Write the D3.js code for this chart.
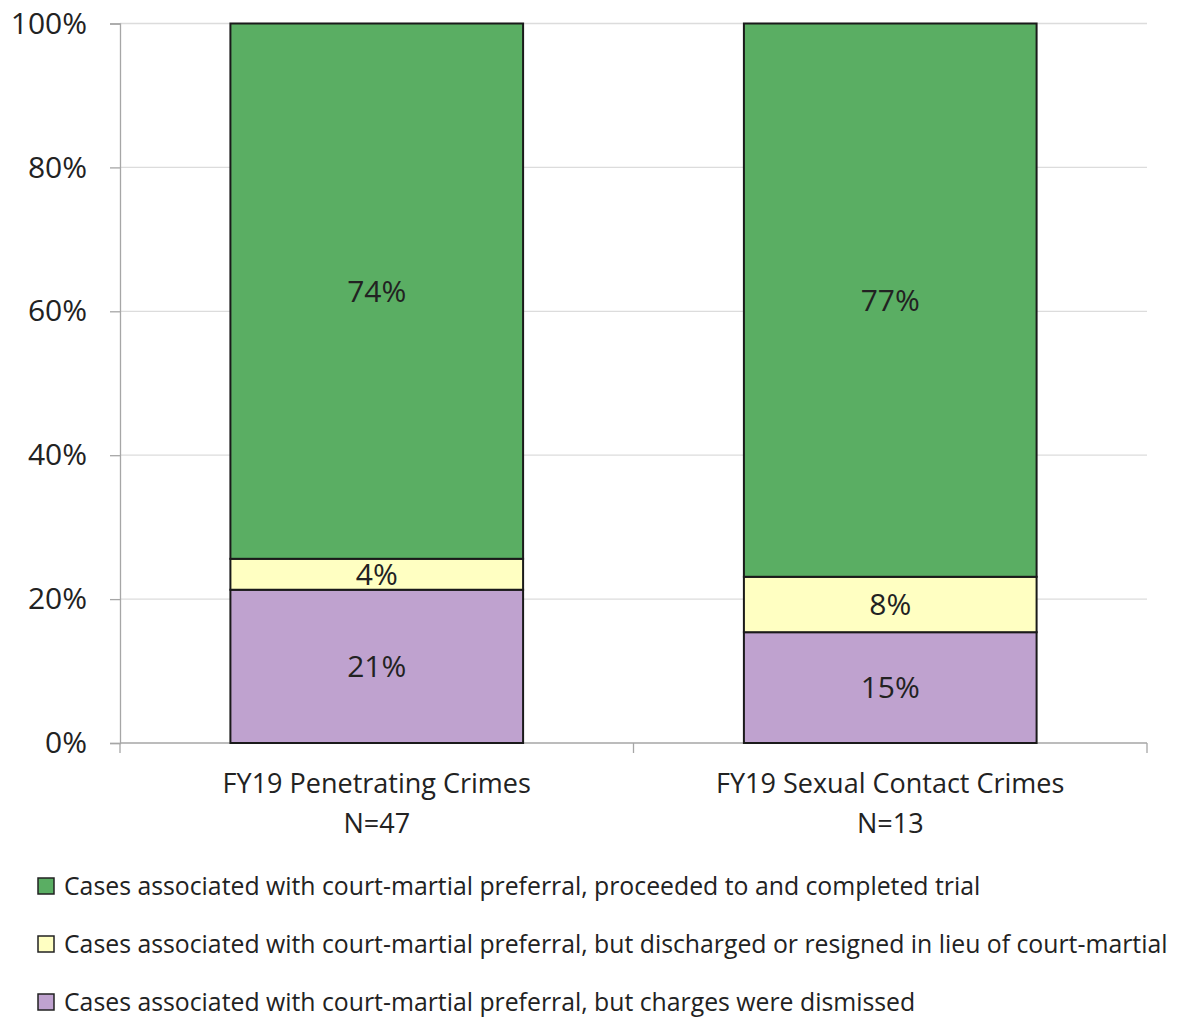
<!DOCTYPE html>
<html>
<head>
<meta charset="utf-8">
<script src="https://cdn.jsdelivr.net/npm/d3@7"></script>
<style>
  body { margin: 0; background: #fff; }
  text { font-family: "Open Sans", sans-serif; fill: #222; }
</style>
</head>
<body>
<div id="chart-container"></div>
<script>
// categories and their sample sizes
const categories = ["FY19 Penetrating Crimes", "FY19 Sexual Contact Crimes"];
const sampleSizes = ["N=47", "N=13"];

// series (bottom to top of each stack), share of cases
const seriesKeys = ["dismissed", "discharged", "trial"];
const dismissed = [0.213, 0.154];
const discharged = [0.043, 0.077];
const trial = [0.744, 0.769];

// labels printed on bars
const dismissedLabels = ["21%", "15%"];
const dischargedLabels = ["4%", "8%"];
const trialLabels = ["74%", "77%"];

const yTicks = [0, 0.2, 0.4, 0.6, 0.8, 1];

const legendLabels = [
  "Cases associated with court-martial preferral, proceeded to and completed trial",
  "Cases associated with court-martial preferral, but discharged or resigned in lieu of court-martial",
  "Cases associated with court-martial preferral, but charges were dismissed"
];
const legendKeys = ["trial", "discharged", "dismissed"];

function drawChart() {
  const W = 1177, H = 1019;
  const left = 120, right = 1147, top = 23.5, bottom = 743;

  const svg = d3.select("#chart-container")
    .append("svg")
    .attr("width", W)
    .attr("height", H);

  // build rows for the stack
  const rows = categories.map((c, i) => ({
    cat: c,
    dismissed: dismissed[i],
    discharged: discharged[i],
    trial: trial[i],
    labels: { dismissed: dismissedLabels[i], discharged: dischargedLabels[i], trial: trialLabels[i] }
  }));

  const x = d3.scaleBand().domain(categories).range([left, right]).paddingInner(0.43).paddingOuter(0.215);
  const y = d3.scaleLinear().domain([0, 1]).range([bottom, top]);

  const color = d3.scaleOrdinal()
    .domain(seriesKeys)
    .range(["#bfa2cf", "#ffffc2", "#5aae63"]);

  // gridlines
  svg.append("g")
    .selectAll("line")
    .data(yTicks.slice(1))
    .enter()
    .append("line")
    .attr("x1", left).attr("x2", right)
    .attr("y1", d => y(d)).attr("y2", d => y(d))
    .attr("stroke", "#dcdcdc")
    .attr("stroke-width", 1.3);

  // y axis
  const yAxis = svg.append("g")
    .attr("transform", `translate(${left},0)`)
    .call(d3.axisLeft(y).tickValues(yTicks).tickFormat(d3.format(".0%")).tickSize(10).tickPadding(23));
  yAxis.select(".domain").attr("stroke", "#a6a6a6").attr("stroke-width", 1.3);
  yAxis.selectAll(".tick line").attr("stroke", "#a6a6a6").attr("stroke-width", 1.3);
  yAxis.selectAll(".tick text")
    .style("font-family", "'Open Sans', sans-serif")
    .style("font-size", "30px")
    .attr("fill", "#222");

  // x axis: boundary ticks between categories
  const xEdges = [left, (left + right) / 2, right];
  svg.append("line")
    .attr("x1", left).attr("x2", right)
    .attr("y1", bottom).attr("y2", bottom)
    .attr("stroke", "#a6a6a6").attr("stroke-width", 1.3);
  svg.append("g")
    .selectAll("line")
    .data(xEdges)
    .enter()
    .append("line")
    .attr("x1", d => d).attr("x2", d => d)
    .attr("y1", bottom).attr("y2", bottom + 10)
    .attr("stroke", "#a6a6a6").attr("stroke-width", 1.3);

  // category labels
  const catLabels = svg.append("g")
    .selectAll("text")
    .data(rows)
    .enter()
    .append("text")
    .attr("text-anchor", "middle")
    .style("font-size", "27px");
  catLabels.append("tspan")
    .attr("x", d => x(d.cat) + x.bandwidth() / 2)
    .attr("y", 793)
    .text(d => d.cat);
  catLabels.append("tspan")
    .attr("x", d => x(d.cat) + x.bandwidth() / 2)
    .attr("y", 833)
    .text((d, i) => sampleSizes[i]);

  // stacked bars
  const stacked = d3.stack().keys(seriesKeys)(rows);

  const layers = svg.append("g")
    .selectAll("g")
    .data(stacked)
    .enter()
    .append("g")
    .attr("fill", d => color(d.key));

  layers.selectAll("rect")
    .data(d => d)
    .enter()
    .append("rect")
    .attr("x", d => x(d.data.cat))
    .attr("y", d => y(d[1]))
    .attr("width", x.bandwidth())
    .attr("height", d => y(d[0]) - y(d[1]))
    .attr("stroke", "#1a1a1a")
    .attr("stroke-width", 2);

  // value labels
  layers.each(function (layer) {
    d3.select(this).selectAll("text")
      .data(layer)
      .enter()
      .append("text")
      .attr("x", d => x(d.data.cat) + x.bandwidth() / 2)
      .attr("y", d => (y(d[0]) + y(d[1])) / 2)
      .attr("dy", "0.35em")
      .attr("text-anchor", "middle")
      .style("font-size", "30px")
      .attr("fill", "#222")
      .text(d => d.data.labels[layer.key]);
  });

  // legend
  const legend = svg.append("g")
    .selectAll("g")
    .data(legendKeys)
    .enter()
    .append("g")
    .attr("transform", (d, i) => `translate(38,${886 + i * 58})`);
  legend.append("rect")
    .attr("x", 0).attr("y", -8)
    .attr("width", 16).attr("height", 16)
    .attr("fill", d => color(d))
    .attr("stroke", "#222")
    .attr("stroke-width", 1.5);
  legend.append("text")
    .attr("x", 26)
    .attr("y", 0)
    .attr("dy", "0.35em")
    .style("font-size", "24.8px")
    .text((d, i) => legendLabels[i]);
}

window.onload = () => {
  drawChart();
};
</script>
</body>
</html>
